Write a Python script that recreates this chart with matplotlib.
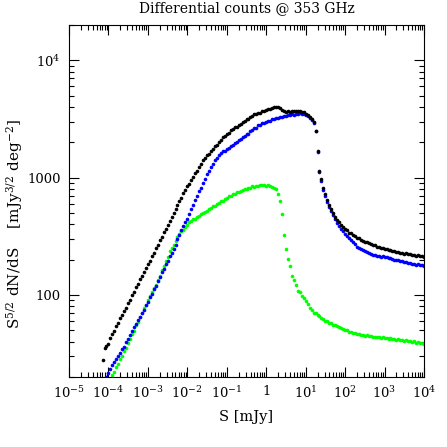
import numpy as np
import matplotlib
matplotlib.use('Agg')
import matplotlib.pyplot as plt
from matplotlib.ticker import LogLocator, FuncFormatter, NullFormatter

matplotlib.rcParams['font.family'] = 'DejaVu Serif'
matplotlib.rcParams['mathtext.fontset'] = 'dejavuserif'
matplotlib.rcParams['font.size'] = 9

nan = np.nan

# log10 of flux density S [mJy], bin centres
log_s = [
    -4.15, -4.10, -4.05, -4.00,
    -3.95, -3.90, -3.85, -3.80, -3.75, -3.70, -3.65, -3.60, -3.55, -3.50,
    -3.45, -3.40, -3.35, -3.30, -3.25, -3.20, -3.15, -3.10, -3.05, -3.00,
    -2.95, -2.90, -2.85, -2.80, -2.75, -2.70, -2.65, -2.60, -2.55, -2.50,
    -2.45, -2.40, -2.35, -2.30, -2.25, -2.20, -2.15, -2.10, -2.05, -2.00,
    -1.95, -1.90, -1.85, -1.80, -1.75, -1.70, -1.65, -1.60, -1.55, -1.50,
    -1.45, -1.40, -1.35, -1.30, -1.25, -1.20, -1.15, -1.10, -1.05, -1.00,
    -0.95, -0.90, -0.85, -0.80, -0.75, -0.70, -0.65, -0.60, -0.55, -0.50,
    -0.45, -0.40, -0.35, -0.30, -0.25, -0.20, -0.15, -0.10, -0.05, 0.00,
    0.05, 0.10, 0.15, 0.20, 0.25, 0.30, 0.35, 0.40, 0.45, 0.50,
    0.55, 0.60, 0.65, 0.70, 0.75, 0.80, 0.85, 0.90, 0.95, 1.00,
    1.05, 1.10, 1.15, 1.20, 1.25, 1.30, 1.35, 1.40, 1.45, 1.50,
    1.55, 1.60, 1.65, 1.70, 1.75, 1.80, 1.85, 1.90, 1.95, 2.00,
    2.05, 2.10, 2.15, 2.20, 2.25, 2.30, 2.35, 2.40, 2.45, 2.50,
    2.55, 2.60, 2.65, 2.70, 2.75, 2.80, 2.85, 2.90, 2.95, 3.00,
    3.05, 3.10, 3.15, 3.20, 3.25, 3.30, 3.35, 3.40, 3.45, 3.50,
    3.55, 3.60, 3.65, 3.70, 3.75, 3.80, 3.85, 3.90, 3.95, 4.00,
]

# log10 of S^5/2 dN/dS [mJy^3/2 deg^-2]
log_total = [
    1.445, 1.545, 1.566, 1.585,
    1.630, 1.668, 1.694, 1.733, 1.760, 1.801, 1.826, 1.866, 1.893, 1.934,
    1.960, 2.001, 2.026, 2.066, 2.092, 2.133, 2.160, 2.199, 2.226, 2.266,
    2.293, 2.332, 2.359, 2.399, 2.427, 2.466, 2.494, 2.533, 2.561, 2.600,
    2.628, 2.668, 2.696, 2.736, 2.763, 2.803, 2.830, 2.870, 2.892, 2.926,
    2.948, 2.982, 3.004, 3.038, 3.060, 3.094, 3.116, 3.150, 3.165, 3.190,
    3.204, 3.229, 3.243, 3.268, 3.282, 3.307, 3.321, 3.346, 3.355, 3.375,
    3.383, 3.403, 3.411, 3.429, 3.434, 3.451, 3.456, 3.473, 3.479, 3.497,
    3.502, 3.520, 3.526, 3.540, 3.540, 3.553, 3.553, 3.566, 3.565, 3.578,
    3.584, 3.585, 3.597, 3.598, 3.605, 3.598, 3.592, 3.576, 3.572, 3.563,
    3.567, 3.562, 3.567, 3.564, 3.569, 3.566, 3.567, 3.558, 3.556, 3.546,
    3.535, 3.518, 3.497, 3.472, 3.400, 3.225, 3.058, 2.988, 2.915, 2.862,
    2.812, 2.768, 2.730, 2.696, 2.668, 2.643, 2.620, 2.600, 2.582, 2.564,
    2.550, 2.532, 2.524, 2.509, 2.503, 2.489, 2.483, 2.469, 2.464, 2.453,
    2.450, 2.439, 2.436, 2.426, 2.423, 2.412, 2.410, 2.400, 2.400, 2.392,
    2.392, 2.384, 2.383, 2.375, 2.375, 2.367, 2.367, 2.359, 2.360, 2.353,
    2.354, 2.347, 2.349, 2.342, 2.343, 2.336, 2.338, 2.331, 2.333, 2.327,
]

log_blue = [
    nan, nan, 1.300, 1.332,
    1.367, 1.400, 1.433, 1.452, 1.483, 1.502, 1.536, 1.560, 1.596, 1.622,
    1.662, 1.690, 1.728, 1.752, 1.789, 1.813, 1.849, 1.874, 1.914, 1.941,
    1.981, 2.008, 2.048, 2.079, 2.123, 2.155, 2.195, 2.222, 2.262, 2.289,
    2.328, 2.356, 2.395, 2.423, 2.473, 2.512, 2.557, 2.584, 2.623, 2.651,
    2.689, 2.733, 2.765, 2.809, 2.840, 2.883, 2.914, 2.958, 2.989, 3.031,
    3.055, 3.091, 3.115, 3.148, 3.165, 3.195, 3.207, 3.224, 3.229, 3.246,
    3.251, 3.269, 3.276, 3.295, 3.302, 3.321, 3.328, 3.346, 3.352, 3.370,
    3.376, 3.395, 3.402, 3.421, 3.427, 3.446, 3.452, 3.463, 3.463, 3.475,
    3.483, 3.486, 3.500, 3.501, 3.511, 3.509, 3.519, 3.516, 3.526, 3.523,
    3.533, 3.530, 3.539, 3.535, 3.543, 3.539, 3.547, 3.542, 3.545, 3.536,
    3.527, 3.512, 3.492, 3.468, 3.395, 3.215, 3.045, 2.970, 2.895, 2.842,
    2.792, 2.750, 2.712, 2.678, 2.648, 2.617, 2.590, 2.565, 2.542, 2.522,
    2.505, 2.484, 2.470, 2.448, 2.434, 2.413, 2.404, 2.390, 2.385, 2.372,
    2.368, 2.356, 2.353, 2.343, 2.342, 2.334, 2.334, 2.327, 2.328, 2.321,
    2.320, 2.312, 2.311, 2.303, 2.302, 2.294, 2.294, 2.286, 2.286, 2.278,
    2.278, 2.271, 2.272, 2.265, 2.266, 2.259, 2.260, 2.252, 2.253, 2.246,
]

log_green = [
    nan, nan, nan, nan,
    nan, 1.318, 1.347, 1.386, 1.415, 1.455, 1.481, 1.520, 1.550, 1.593,
    1.624, 1.666, 1.697, 1.740, 1.771, 1.814, 1.845, 1.888, 1.918, 1.961,
    1.995, 2.022, 2.061, 2.087, 2.130, 2.165, 2.211, 2.246, 2.292, 2.327,
    2.373, 2.399, 2.430, 2.457, 2.495, 2.519, 2.545, 2.557, 2.583, 2.599,
    2.620, 2.627, 2.644, 2.649, 2.666, 2.672, 2.690, 2.695, 2.711, 2.715,
    2.734, 2.739, 2.757, 2.761, 2.778, 2.783, 2.800, 2.805, 2.821, 2.826,
    2.843, 2.846, 2.863, 2.863, 2.876, 2.877, 2.890, 2.891, 2.902, 2.902,
    2.914, 2.914, 2.925, 2.922, 2.931, 2.928, 2.937, 2.934, 2.941, 2.933,
    2.934, 2.930, 2.922, 2.915, 2.905, 2.862, 2.797, 2.690, 2.510, 2.390,
    2.308, 2.245, 2.160, 2.128, 2.085, 2.035, 2.024, 1.995, 1.972, 1.950,
    1.925, 1.893, 1.875, 1.850, 1.846, 1.832, 1.825, 1.805, 1.798, 1.779,
    1.776, 1.762, 1.760, 1.747, 1.746, 1.733, 1.730, 1.715, 1.712, 1.698,
    1.698, 1.687, 1.688, 1.677, 1.679, 1.669, 1.671, 1.661, 1.663, 1.654,
    1.657, 1.648, 1.651, 1.642, 1.646, 1.638, 1.642, 1.634, 1.638, 1.630,
    1.634, 1.627, 1.631, 1.623, 1.627, 1.619, 1.623, 1.615, 1.619, 1.612,
    1.617, 1.608, 1.611, 1.602, 1.604, 1.595, 1.597, 1.587, 1.589, 1.580,
]

S = 10 ** np.array(log_s)
counts_total = 10 ** np.array(log_total, dtype=float)
counts_blue = 10 ** np.array(log_blue, dtype=float)
counts_green = 10 ** np.array(log_green, dtype=float)

fig = plt.figure(figsize=(4.47, 4.47), dpi=100)
ax = fig.add_axes([0.1544, 0.1566, 0.7942, 0.7875])

ms = 2.6
ax.plot(S, counts_green, 'o', color='#00ff00', ms=ms, mew=0)
ax.plot(S, counts_blue, 'o', color='#0000ff', ms=ms, mew=0)
ax.plot(S, counts_total, 'o', color='black', ms=ms, mew=0)

ax.set_xscale('log')
ax.set_yscale('log')
ax.set_xlim(1e-5, 1e4)
ax.set_ylim(20, 2e4)

ax.xaxis.set_major_locator(LogLocator(base=10, numticks=20))
ax.xaxis.set_minor_locator(LogLocator(base=10, subs=np.arange(2, 10), numticks=20))
ax.yaxis.set_major_locator(LogLocator(base=10, numticks=20))
ax.yaxis.set_minor_locator(LogLocator(base=10, subs=np.arange(2, 10), numticks=20))


def xfmt(v, pos):
    e = int(round(np.log10(v)))
    return '1' if e == 0 else r'$10^{%d}$' % e


def yfmt(v, pos):
    e = int(round(np.log10(v)))
    return r'$10^{%d}$' % e if e >= 4 else '%d' % round(v)


ax.xaxis.set_major_formatter(FuncFormatter(xfmt))
ax.yaxis.set_major_formatter(FuncFormatter(yfmt))
ax.xaxis.set_minor_formatter(NullFormatter())
ax.yaxis.set_minor_formatter(NullFormatter())

ax.tick_params(which='both', direction='in', top=True, right=True, width=0.8)
ax.tick_params(which='major', length=7, pad=6, labelsize=9.5)
ax.tick_params(which='minor', length=3.5)
for sp in ax.spines.values():
    sp.set_linewidth(0.8)

ax.set_title('Differential counts @ 353 GHz', fontsize=10, pad=9)
ax.set_xlabel('S [mJy]', fontsize=10.5, labelpad=6)
ax.set_ylabel(r'S$^{5/2}$ dN/dS    [mJy$^{3/2}$ deg$^{-2}$]', fontsize=11)
ax.yaxis.set_label_coords(-0.125, 0.435)

fig.savefig('out.png', dpi=100)
plt.close(fig)
